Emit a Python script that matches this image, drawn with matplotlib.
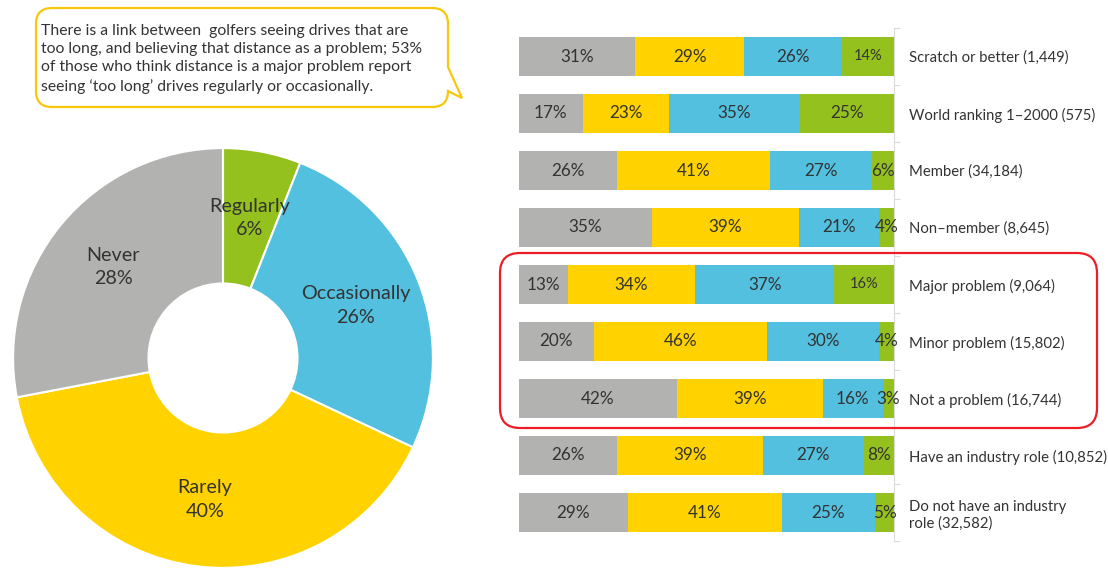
import matplotlib.pyplot as plt
import matplotlib.transforms as mtransforms
from matplotlib.path import Path
from matplotlib.patches import PathPatch, FancyBboxPatch
import numpy as np

plt.rcParams['font.family'] = ['Lato', 'DejaVu Sans']

W, H = 1108, 569

# donut: how often golfers see 'too long' drives
freq_labels = ['Regularly', 'Occasionally', 'Rarely', 'Never']
freq_values = [6, 26, 40, 28]

# stacked bars per group (never / rarely / occasionally / regularly)
groups = ['Scratch or better (1,449)', 'World ranking 1–2000 (575)', 'Member (34,184)',
          'Non–member (8,645)', 'Major problem (9,064)', 'Minor problem (15,802)',
          'Not a problem (16,744)', 'Have an industry role (10,852)',
          'Do not have an industry\nrole (32,582)']
never = [31, 17, 26, 35, 13, 20, 42, 26, 29]
rarely = [29, 23, 41, 39, 34, 46, 39, 39, 41]
occasionally = [26, 35, 27, 21, 37, 30, 16, 27, 25]
regularly = [14, 25, 6, 4, 16, 4, 3, 8, 5]

callout = ("There is a link between  golfers seeing drives that are\n"
           "too long, and believing that distance as a problem; 53%\n"
           "of those who think distance is a major problem report\n"
           "seeing \u2018too long\u2019 drives regularly or occasionally.")

grey, yellow, blue, green = '#B2B2B1', '#FFD200', '#52C0DE', '#95C11F'
txt = '#333333'

fig = plt.figure(figsize=(W / 100, H / 100), dpi=100)
# pixel coords, y pointing down (to place the decorations)
pix = mtransforms.Affine2D().scale(1, -1).translate(0, H).scale(1 / 100) + fig.dpi_scale_trans

# ---- donut
ax1 = fig.add_axes([11 / W, -1 / H, 424 / W, 424 / H])
ax1.pie(freq_values, colors=[green, blue, yellow, grey], startangle=90, counterclock=False,
        labels=[f'{l}\n{v}%' for l, v in zip(freq_labels, freq_values)], labeldistance=0.68,
        wedgeprops=dict(width=0.645, edgecolor='white', linewidth=1.5),
        textprops=dict(ha='center', va='center', fontsize=14.2, color=txt, linespacing=1.45))
ax1.set_xlim(-1.01, 1.01)
ax1.set_ylim(-1.01, 1.01)

# ---- stacked bars
ax2 = fig.add_axes([519 / W, 28 / H, 375 / W, 513 / H])
y = np.arange(len(groups))
series = [(never, grey), (rarely, yellow), (occasionally, blue), (regularly, green)]
totals = np.array(never) + np.array(rarely) + np.array(occasionally) + np.array(regularly)
left = np.zeros(len(groups))
for vals, col in series:
    w = np.array(vals) / totals * 100
    ax2.barh(y, w, left=left, height=0.7, color=col)
    for i, v in enumerate(vals):
        fs = 10.5 if (col == green and 10 <= v < 20) else 12.3
        ax2.text(left[i] + w[i] / 2, i, f'{v}%', ha='center', va='center',
                 fontsize=fs, color=txt)
    left += w

ax2.set_xlim(0, 100)
ax2.set_ylim(len(groups) - 0.5, -0.5)
for s in ['top', 'left', 'bottom']:
    ax2.spines[s].set_visible(False)
ax2.spines['right'].set_color('#DADADA')
ax2.spines['right'].set_linewidth(0.8)
ax2.set_xticks([])
ax2.yaxis.tick_right()
ax2.set_yticks(y)
ax2.set_yticklabels(groups)
ax2.set_yticks(np.arange(-0.5, len(groups)), minor=True)
ax2.tick_params(axis='y', which='major', length=0, pad=10.5, labelsize=10.7, labelcolor=txt)
ax2.tick_params(axis='y', which='minor', length=4, width=0.8, color='#DADADA', direction='out')

# red highlight box round the "distance as a problem" rows
fig.patches.append(FancyBboxPatch((500, 253), 597, 175, boxstyle='round,pad=0,rounding_size=20',
                                  transform=pix, facecolor='none', edgecolor='#EE1C25',
                                  linewidth=1.6))

# ---- speech bubble
x0, x1, y0, y1, r = 36, 448, 8, 107, 16
verts = [(x0 + r, y0), (x1 - r, y0), (x1, y0), (x1, y0 + r), (x1, 67), (462, 98), (x1, y1 - r),
         (x1, y1), (x1 - r, y1), (x0 + r, y1), (x0, y1), (x0, y1 - r), (x0, y0 + r), (x0, y0),
         (x0 + r, y0), (x0 + r, y0)]
codes = [Path.MOVETO, Path.LINETO, Path.CURVE3, Path.CURVE3, Path.LINETO, Path.LINETO, Path.LINETO,
         Path.CURVE3, Path.CURVE3, Path.LINETO, Path.CURVE3, Path.CURVE3, Path.LINETO, Path.CURVE3,
         Path.CURVE3, Path.CLOSEPOLY]
fig.patches.append(PathPatch(Path(verts, codes), transform=pix, facecolor='white',
                             edgecolor='#F7C70A', linewidth=1.6))
fig.text(41, 59, callout, transform=pix, ha='left', va='center', fontsize=11.3, color=txt,
         linespacing=1.38)

fig.savefig('out.png', dpi=100)
